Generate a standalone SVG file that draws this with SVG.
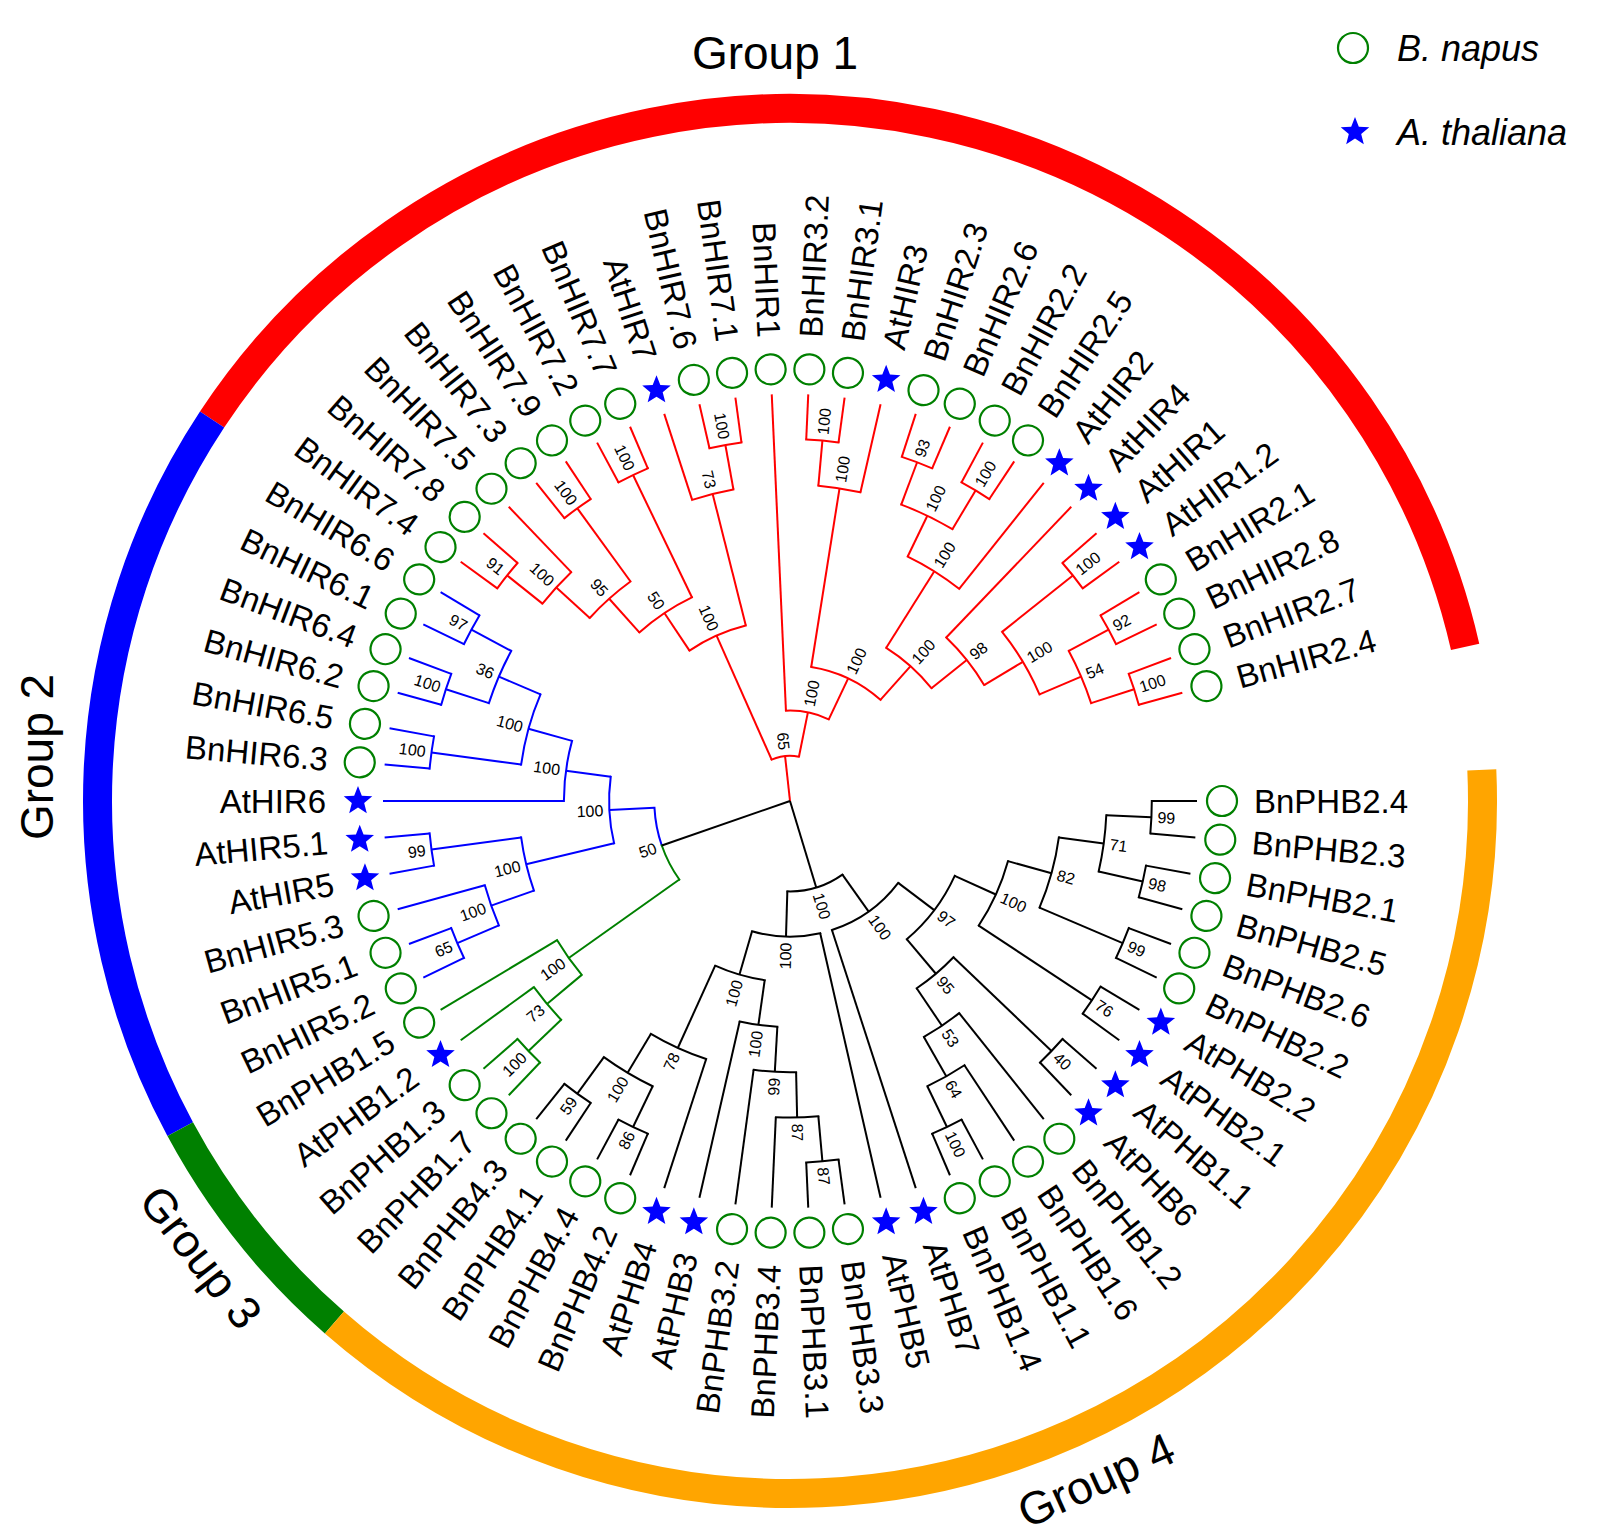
<svg xmlns="http://www.w3.org/2000/svg" width="1616" height="1538" viewBox="0 0 1616 1538">
<defs>
<path id="st" d="M0,-15 L3.82,-5.26 L14.27,-4.64 L6.18,2.01 L8.82,12.14 L0,6.5 L-8.82,12.14 L-6.18,2.01 L-14.27,-4.64 L-3.82,-5.26 Z" fill="#0000FF"/>
</defs>
<style>
text{font-family:"Liberation Sans",Arial,sans-serif;fill:#000}
.lab{font-size:33px}
.bs{font-size:16px}
.f{text-anchor:end}
.bn{fill:none;stroke:#008000;stroke-width:2.2}
.br{fill:none;stroke-width:2;stroke-linecap:butt}
.br circle{stroke-linecap:square}
.red{stroke:#FF0000}.blue{stroke:#0000FF}.grn{stroke:#008000}.blk{stroke:#000000}
.ring{fill:none;stroke-width:29}
.grp{font-size:46px;text-anchor:middle}
.leg{font-size:36px;font-style:italic}
</style>
<rect width="1616" height="1538" fill="#FFFFFF"/>

<g id="group-rings" transform="translate(790,801)">
<circle class="ring" r="692.5" stroke="#FF0000" pathLength="360" stroke-dasharray="133.71 400" transform="rotate(213.43)"/>
<circle class="ring" r="692.5" stroke="#0000FF" pathLength="360" stroke-dasharray="61.72 400" transform="rotate(151.71)"/>
<circle class="ring" r="692.5" stroke="#008000" pathLength="360" stroke-dasharray="20.57 400" transform="rotate(131.14)"/>
<circle class="ring" r="692.5" stroke="#FFA500" pathLength="360" stroke-dasharray="133.71 400" transform="rotate(-2.57)"/>
</g>

<g id="group-labels">
<text class="grp" x="775" y="69">Group 1</text>
<text class="grp" transform="translate(37,757) rotate(-90)" dy="0.35em">Group 2</text>
<text class="grp" transform="translate(201,1257) rotate(52)" dy="0.35em">Group 3</text>
<text class="grp" transform="translate(1096,1480) rotate(-24.3)" dy="0.35em">Group 4</text>
</g>

<g id="legend">
<circle class="bn" cx="1353" cy="48" r="15"/>
<text class="leg" x="1397" y="61">B. napus</text>
<use href="#st" transform="translate(1355,132)"/>
<text class="leg" x="1397" y="145">A. thaliana</text>
</g>

<g transform="translate(790,801)">
<g id="connectors">
<g class="br red">
<circle r="361.8" pathLength="360" stroke-dasharray="5.14 400" transform="rotate(216)"/>
<line x1="361.8" x2="407" transform="rotate(216)"/>
<line x1="361.8" x2="407" transform="rotate(221.14)"/>
<circle r="316.6" pathLength="360" stroke-dasharray="7.72 400" transform="rotate(218.57)"/>
<line x1="316.6" x2="361.8" transform="rotate(218.57)"/>
<line x1="316.6" x2="407" transform="rotate(226.29)"/>
<circle r="361.8" pathLength="360" stroke-dasharray="5.14 400" transform="rotate(231.43)"/>
<line x1="361.8" x2="407" transform="rotate(231.43)"/>
<line x1="361.8" x2="407" transform="rotate(236.57)"/>
<circle r="271.3" pathLength="360" stroke-dasharray="11.57 400" transform="rotate(222.43)"/>
<line x1="271.3" x2="316.6" transform="rotate(222.43)"/>
<line x1="271.3" x2="361.8" transform="rotate(234)"/>
<circle r="361.8" pathLength="360" stroke-dasharray="5.15 400" transform="rotate(241.71)"/>
<line x1="361.8" x2="407" transform="rotate(241.71)"/>
<line x1="361.8" x2="407" transform="rotate(246.86)"/>
<circle r="226.1" pathLength="360" stroke-dasharray="16.08 400" transform="rotate(228.21)"/>
<line x1="226.1" x2="271.3" transform="rotate(228.21)"/>
<line x1="226.1" x2="361.8" transform="rotate(244.29)"/>
<circle r="361.8" pathLength="360" stroke-dasharray="5.15 400" transform="rotate(257.14)"/>
<line x1="361.8" x2="407" transform="rotate(257.14)"/>
<line x1="361.8" x2="407" transform="rotate(262.29)"/>
<circle r="316.6" pathLength="360" stroke-dasharray="7.71 400" transform="rotate(252)"/>
<line x1="316.6" x2="407" transform="rotate(252)"/>
<line x1="316.6" x2="361.8" transform="rotate(259.71)"/>
<circle r="180.9" pathLength="360" stroke-dasharray="19.61 400" transform="rotate(236.25)"/>
<line x1="180.9" x2="226.1" transform="rotate(236.25)"/>
<line x1="180.9" x2="316.6" transform="rotate(255.86)"/>
<circle r="361.8" pathLength="360" stroke-dasharray="5.14 400" transform="rotate(272.57)"/>
<line x1="361.8" x2="407" transform="rotate(272.57)"/>
<line x1="361.8" x2="407" transform="rotate(277.71)"/>
<circle r="316.6" pathLength="360" stroke-dasharray="7.72 400" transform="rotate(275.14)"/>
<line x1="316.6" x2="361.8" transform="rotate(275.14)"/>
<line x1="316.6" x2="407" transform="rotate(282.86)"/>
<circle r="361.8" pathLength="360" stroke-dasharray="5.14 400" transform="rotate(288)"/>
<line x1="361.8" x2="407" transform="rotate(288)"/>
<line x1="361.8" x2="407" transform="rotate(293.14)"/>
<circle r="361.8" pathLength="360" stroke-dasharray="5.14 400" transform="rotate(298.29)"/>
<line x1="361.8" x2="407" transform="rotate(298.29)"/>
<line x1="361.8" x2="407" transform="rotate(303.43)"/>
<circle r="316.6" pathLength="360" stroke-dasharray="10.29 400" transform="rotate(290.57)"/>
<line x1="316.6" x2="361.8" transform="rotate(290.57)"/>
<line x1="316.6" x2="361.8" transform="rotate(300.86)"/>
<circle r="271.3" pathLength="360" stroke-dasharray="12.86 400" transform="rotate(295.71)"/>
<line x1="271.3" x2="316.6" transform="rotate(295.71)"/>
<line x1="271.3" x2="407" transform="rotate(308.57)"/>
<circle r="361.8" pathLength="360" stroke-dasharray="5.14 400" transform="rotate(318.86)"/>
<line x1="361.8" x2="407" transform="rotate(318.86)"/>
<line x1="361.8" x2="407" transform="rotate(324)"/>
<circle r="361.8" pathLength="360" stroke-dasharray="5.15 400" transform="rotate(329.14)"/>
<line x1="361.8" x2="407" transform="rotate(329.14)"/>
<line x1="361.8" x2="407" transform="rotate(334.29)"/>
<circle r="361.8" pathLength="360" stroke-dasharray="5.14 400" transform="rotate(339.43)"/>
<line x1="361.8" x2="407" transform="rotate(339.43)"/>
<line x1="361.8" x2="407" transform="rotate(344.57)"/>
<circle r="316.6" pathLength="360" stroke-dasharray="10.29 400" transform="rotate(331.71)"/>
<line x1="316.6" x2="361.8" transform="rotate(331.71)"/>
<line x1="316.6" x2="361.8" transform="rotate(342)"/>
<circle r="271.3" pathLength="360" stroke-dasharray="15.43 400" transform="rotate(321.43)"/>
<line x1="271.3" x2="361.8" transform="rotate(321.43)"/>
<line x1="271.3" x2="316.6" transform="rotate(336.86)"/>
<circle r="226.1" pathLength="360" stroke-dasharray="15.43 400" transform="rotate(313.71)"/>
<line x1="226.1" x2="407" transform="rotate(313.71)"/>
<line x1="226.1" x2="271.3" transform="rotate(329.14)"/>
<circle r="180.9" pathLength="360" stroke-dasharray="19.29 400" transform="rotate(302.14)"/>
<line x1="180.9" x2="271.3" transform="rotate(302.14)"/>
<line x1="180.9" x2="226.1" transform="rotate(321.43)"/>
<circle r="135.7" pathLength="360" stroke-dasharray="32.79 400" transform="rotate(279)"/>
<line x1="135.7" x2="316.6" transform="rotate(279)"/>
<line x1="135.7" x2="180.9" transform="rotate(311.79)"/>
<circle r="90.4" pathLength="360" stroke-dasharray="27.96 400" transform="rotate(267.43)"/>
<line x1="90.4" x2="407" transform="rotate(267.43)"/>
<line x1="90.4" x2="135.7" transform="rotate(295.39)"/>
<circle r="45.2" pathLength="360" stroke-dasharray="35.36 400" transform="rotate(246.05)"/>
<line x1="45.2" x2="180.9" transform="rotate(246.05)"/>
<line x1="45.2" x2="90.4" transform="rotate(281.41)"/>
<line x1="0" x2="45.2" transform="rotate(263.73)"/>
</g>
<g class="br blue">
<circle r="361.8" pathLength="360" stroke-dasharray="5.14 400" transform="rotate(154.29)"/>
<line x1="361.8" x2="407" transform="rotate(154.29)"/>
<line x1="361.8" x2="407" transform="rotate(159.43)"/>
<circle r="316.6" pathLength="360" stroke-dasharray="7.71 400" transform="rotate(156.86)"/>
<line x1="316.6" x2="361.8" transform="rotate(156.86)"/>
<line x1="316.6" x2="407" transform="rotate(164.57)"/>
<circle r="361.8" pathLength="360" stroke-dasharray="5.15 400" transform="rotate(169.71)"/>
<line x1="361.8" x2="407" transform="rotate(169.71)"/>
<line x1="361.8" x2="407" transform="rotate(174.86)"/>
<circle r="271.3" pathLength="360" stroke-dasharray="11.58 400" transform="rotate(160.71)"/>
<line x1="271.3" x2="316.6" transform="rotate(160.71)"/>
<line x1="271.3" x2="361.8" transform="rotate(172.29)"/>
<circle r="361.8" pathLength="360" stroke-dasharray="5.15 400" transform="rotate(185.14)"/>
<line x1="361.8" x2="407" transform="rotate(185.14)"/>
<line x1="361.8" x2="407" transform="rotate(190.29)"/>
<circle r="361.8" pathLength="360" stroke-dasharray="5.14 400" transform="rotate(195.43)"/>
<line x1="361.8" x2="407" transform="rotate(195.43)"/>
<line x1="361.8" x2="407" transform="rotate(200.57)"/>
<circle r="361.8" pathLength="360" stroke-dasharray="5.15 400" transform="rotate(205.71)"/>
<line x1="361.8" x2="407" transform="rotate(205.71)"/>
<line x1="361.8" x2="407" transform="rotate(210.86)"/>
<circle r="316.6" pathLength="360" stroke-dasharray="10.29 400" transform="rotate(198)"/>
<line x1="316.6" x2="361.8" transform="rotate(198)"/>
<line x1="316.6" x2="361.8" transform="rotate(208.29)"/>
<circle r="271.3" pathLength="360" stroke-dasharray="15.43 400" transform="rotate(187.71)"/>
<line x1="271.3" x2="361.8" transform="rotate(187.71)"/>
<line x1="271.3" x2="316.6" transform="rotate(203.14)"/>
<circle r="226.1" pathLength="360" stroke-dasharray="15.43 400" transform="rotate(180)"/>
<line x1="226.1" x2="407" transform="rotate(180)"/>
<line x1="226.1" x2="271.3" transform="rotate(195.43)"/>
<circle r="180.9" pathLength="360" stroke-dasharray="21.21 400" transform="rotate(166.5)"/>
<line x1="180.9" x2="271.3" transform="rotate(166.5)"/>
<line x1="180.9" x2="226.1" transform="rotate(187.71)"/>
<circle r="135.7" pathLength="360" stroke-dasharray="16.24 400" transform="rotate(160.87)"/>
<line x1="135.7" x2="180.9" transform="rotate(177.11)"/>
</g>
<g class="br grn">
<circle r="361.8" pathLength="360" stroke-dasharray="5.15 400" transform="rotate(133.71)"/>
<line x1="361.8" x2="407" transform="rotate(133.71)"/>
<line x1="361.8" x2="407" transform="rotate(138.86)"/>
<circle r="316.6" pathLength="360" stroke-dasharray="7.71 400" transform="rotate(136.29)"/>
<line x1="316.6" x2="361.8" transform="rotate(136.29)"/>
<line x1="316.6" x2="407" transform="rotate(144)"/>
<circle r="271.3" pathLength="360" stroke-dasharray="9 400" transform="rotate(140.14)"/>
<line x1="271.3" x2="316.6" transform="rotate(140.14)"/>
<line x1="271.3" x2="407" transform="rotate(149.14)"/>
<circle r="135.7" pathLength="360" stroke-dasharray="16.23 400" transform="rotate(144.64)"/>
<line x1="135.7" x2="271.3" transform="rotate(144.64)"/>
</g>
<g class="br blk">
<line x1="0" x2="135.7" transform="rotate(160.87)"/>
<line x1="0" x2="90.4" transform="rotate(73.13)"/>
<circle r="361.8" pathLength="360" stroke-dasharray="5.14 400" transform="rotate(0)"/>
<line x1="361.8" x2="407" transform="rotate(0)"/>
<line x1="361.8" x2="407" transform="rotate(5.14)"/>
<circle r="361.8" pathLength="360" stroke-dasharray="5.14 400" transform="rotate(10.29)"/>
<line x1="361.8" x2="407" transform="rotate(10.29)"/>
<line x1="361.8" x2="407" transform="rotate(15.43)"/>
<circle r="316.6" pathLength="360" stroke-dasharray="10.29 400" transform="rotate(2.57)"/>
<line x1="316.6" x2="361.8" transform="rotate(2.57)"/>
<line x1="316.6" x2="361.8" transform="rotate(12.86)"/>
<circle r="361.8" pathLength="360" stroke-dasharray="5.14 400" transform="rotate(20.57)"/>
<line x1="361.8" x2="407" transform="rotate(20.57)"/>
<line x1="361.8" x2="407" transform="rotate(25.71)"/>
<circle r="271.3" pathLength="360" stroke-dasharray="15.43 400" transform="rotate(7.71)"/>
<line x1="271.3" x2="316.6" transform="rotate(7.71)"/>
<line x1="271.3" x2="361.8" transform="rotate(23.14)"/>
<circle r="361.8" pathLength="360" stroke-dasharray="5.14 400" transform="rotate(30.86)"/>
<line x1="361.8" x2="407" transform="rotate(30.86)"/>
<line x1="361.8" x2="407" transform="rotate(36)"/>
<circle r="226.1" pathLength="360" stroke-dasharray="18 400" transform="rotate(15.43)"/>
<line x1="226.1" x2="271.3" transform="rotate(15.43)"/>
<line x1="226.1" x2="361.8" transform="rotate(33.43)"/>
<circle r="361.8" pathLength="360" stroke-dasharray="5.15 400" transform="rotate(41.14)"/>
<line x1="361.8" x2="407" transform="rotate(41.14)"/>
<line x1="361.8" x2="407" transform="rotate(46.29)"/>
<circle r="361.8" pathLength="360" stroke-dasharray="5.15 400" transform="rotate(61.71)"/>
<line x1="361.8" x2="407" transform="rotate(61.71)"/>
<line x1="361.8" x2="407" transform="rotate(66.86)"/>
<circle r="316.6" pathLength="360" stroke-dasharray="7.72 400" transform="rotate(56.57)"/>
<line x1="316.6" x2="407" transform="rotate(56.57)"/>
<line x1="316.6" x2="361.8" transform="rotate(64.29)"/>
<circle r="271.3" pathLength="360" stroke-dasharray="9 400" transform="rotate(51.43)"/>
<line x1="271.3" x2="407" transform="rotate(51.43)"/>
<line x1="271.3" x2="316.6" transform="rotate(60.43)"/>
<circle r="226.1" pathLength="360" stroke-dasharray="12.22 400" transform="rotate(43.71)"/>
<line x1="226.1" x2="361.8" transform="rotate(43.71)"/>
<line x1="226.1" x2="271.3" transform="rotate(55.93)"/>
<circle r="180.9" pathLength="360" stroke-dasharray="25.39 400" transform="rotate(24.43)"/>
<line x1="180.9" x2="226.1" transform="rotate(24.43)"/>
<line x1="180.9" x2="226.1" transform="rotate(49.82)"/>
<circle r="135.7" pathLength="360" stroke-dasharray="34.88 400" transform="rotate(37.12)"/>
<line x1="135.7" x2="180.9" transform="rotate(37.12)"/>
<line x1="135.7" x2="407" transform="rotate(72)"/>
<circle r="361.8" pathLength="360" stroke-dasharray="5.14 400" transform="rotate(82.29)"/>
<line x1="361.8" x2="407" transform="rotate(82.29)"/>
<line x1="361.8" x2="407" transform="rotate(87.43)"/>
<circle r="316.6" pathLength="360" stroke-dasharray="7.71 400" transform="rotate(84.86)"/>
<line x1="316.6" x2="361.8" transform="rotate(84.86)"/>
<line x1="316.6" x2="407" transform="rotate(92.57)"/>
<circle r="271.3" pathLength="360" stroke-dasharray="9 400" transform="rotate(88.71)"/>
<line x1="271.3" x2="316.6" transform="rotate(88.71)"/>
<line x1="271.3" x2="407" transform="rotate(97.71)"/>
<circle r="226.1" pathLength="360" stroke-dasharray="9.65 400" transform="rotate(93.21)"/>
<line x1="226.1" x2="271.3" transform="rotate(93.21)"/>
<line x1="226.1" x2="407" transform="rotate(102.86)"/>
<circle r="361.8" pathLength="360" stroke-dasharray="5.15 400" transform="rotate(113.14)"/>
<line x1="361.8" x2="407" transform="rotate(113.14)"/>
<line x1="361.8" x2="407" transform="rotate(118.29)"/>
<circle r="361.8" pathLength="360" stroke-dasharray="5.14 400" transform="rotate(123.43)"/>
<line x1="361.8" x2="407" transform="rotate(123.43)"/>
<line x1="361.8" x2="407" transform="rotate(128.57)"/>
<circle r="316.6" pathLength="360" stroke-dasharray="10.29 400" transform="rotate(115.71)"/>
<line x1="316.6" x2="361.8" transform="rotate(115.71)"/>
<line x1="316.6" x2="361.8" transform="rotate(126)"/>
<circle r="271.3" pathLength="360" stroke-dasharray="12.86 400" transform="rotate(108)"/>
<line x1="271.3" x2="407" transform="rotate(108)"/>
<line x1="271.3" x2="316.6" transform="rotate(120.86)"/>
<circle r="180.9" pathLength="360" stroke-dasharray="16.39 400" transform="rotate(98.04)"/>
<line x1="180.9" x2="226.1" transform="rotate(98.04)"/>
<line x1="180.9" x2="271.3" transform="rotate(114.43)"/>
<circle r="135.7" pathLength="360" stroke-dasharray="29.1 400" transform="rotate(77.14)"/>
<line x1="135.7" x2="407" transform="rotate(77.14)"/>
<line x1="135.7" x2="180.9" transform="rotate(106.24)"/>
<circle r="90.4" pathLength="360" stroke-dasharray="37.13 400" transform="rotate(54.56)"/>
<line x1="90.4" x2="135.7" transform="rotate(54.56)"/>
<line x1="90.4" x2="135.7" transform="rotate(91.69)"/>
</g>
</g>

<g id="bootstrap" class="bs">
<text transform="rotate(218.57) translate(367.8,0) rotate(180)" class="f" dy="0.35em">91</text>
<text transform="rotate(222.43) translate(322.6,0) rotate(180)" class="f" dy="0.35em">100</text>
<text transform="rotate(234) translate(367.8,0) rotate(180)" class="f" dy="0.35em">100</text>
<text transform="rotate(228.21) translate(277.3,0) rotate(180)" class="f" dy="0.35em">95</text>
<text transform="rotate(244.29) translate(367.8,0) rotate(180)" class="f" dy="0.35em">100</text>
<text transform="rotate(236.25) translate(232.1,0) rotate(180)" class="f" dy="0.35em">50</text>
<text transform="rotate(259.71) translate(367.8,0) rotate(180)" class="f" dy="0.35em">100</text>
<text transform="rotate(255.86) translate(322.6,0) rotate(180)" class="f" dy="0.35em">73</text>
<text transform="rotate(246.05) translate(186.9,0) rotate(180)" class="f" dy="0.35em">100</text>
<text transform="rotate(275.14) translate(367.8,0)" dy="0.35em">100</text>
<text transform="rotate(279) translate(322.6,0)" dy="0.35em">100</text>
<text transform="rotate(290.57) translate(367.8,0)" dy="0.35em">93</text>
<text transform="rotate(300.86) translate(367.8,0)" dy="0.35em">100</text>
<text transform="rotate(295.71) translate(322.6,0)" dy="0.35em">100</text>
<text transform="rotate(302.14) translate(277.3,0)" dy="0.35em">100</text>
<text transform="rotate(321.43) translate(367.8,0)" dy="0.35em">100</text>
<text transform="rotate(331.71) translate(367.8,0)" dy="0.35em">92</text>
<text transform="rotate(342) translate(367.8,0)" dy="0.35em">100</text>
<text transform="rotate(336.86) translate(322.6,0)" dy="0.35em">54</text>
<text transform="rotate(329.14) translate(277.3,0)" dy="0.35em">100</text>
<text transform="rotate(321.43) translate(232.1,0)" dy="0.35em">98</text>
<text transform="rotate(311.79) translate(186.9,0)" dy="0.35em">100</text>
<text transform="rotate(295.39) translate(141.7,0)" dy="0.35em">100</text>
<text transform="rotate(281.41) translate(96.4,0)" dy="0.35em">100</text>
<text transform="rotate(263.73) translate(51.2,0) rotate(180)" class="f" dy="0.35em">65</text>
<text transform="rotate(156.86) translate(367.8,0) rotate(180)" class="f" dy="0.35em">65</text>
<text transform="rotate(160.71) translate(322.6,0) rotate(180)" class="f" dy="0.35em">100</text>
<text transform="rotate(172.29) translate(367.8,0) rotate(180)" class="f" dy="0.35em">99</text>
<text transform="rotate(166.5) translate(277.3,0) rotate(180)" class="f" dy="0.35em">100</text>
<text transform="rotate(187.71) translate(367.8,0) rotate(180)" class="f" dy="0.35em">100</text>
<text transform="rotate(198) translate(367.8,0) rotate(180)" class="f" dy="0.35em">100</text>
<text transform="rotate(208.29) translate(367.8,0) rotate(180)" class="f" dy="0.35em">97</text>
<text transform="rotate(203.14) translate(322.6,0) rotate(180)" class="f" dy="0.35em">36</text>
<text transform="rotate(195.43) translate(277.3,0) rotate(180)" class="f" dy="0.35em">100</text>
<text transform="rotate(187.71) translate(232.1,0) rotate(180)" class="f" dy="0.35em">100</text>
<text transform="rotate(177.11) translate(186.9,0) rotate(180)" class="f" dy="0.35em">100</text>
<text transform="rotate(160.87) translate(141.7,0) rotate(180)" class="f" dy="0.35em">50</text>
<text transform="rotate(136.29) translate(367.8,0) rotate(180)" class="f" dy="0.35em">100</text>
<text transform="rotate(140.14) translate(322.6,0) rotate(180)" class="f" dy="0.35em">73</text>
<text transform="rotate(144.64) translate(277.3,0) rotate(180)" class="f" dy="0.35em">100</text>
<text transform="rotate(2.57) translate(367.8,0)" dy="0.35em">99</text>
<text transform="rotate(12.86) translate(367.8,0)" dy="0.35em">98</text>
<text transform="rotate(7.71) translate(322.6,0)" dy="0.35em">71</text>
<text transform="rotate(23.14) translate(367.8,0)" dy="0.35em">99</text>
<text transform="rotate(15.43) translate(277.3,0)" dy="0.35em">82</text>
<text transform="rotate(33.43) translate(367.8,0)" dy="0.35em">76</text>
<text transform="rotate(24.43) translate(232.1,0)" dy="0.35em">100</text>
<text transform="rotate(43.71) translate(367.8,0)" dy="0.35em">40</text>
<text transform="rotate(64.29) translate(367.8,0)" dy="0.35em">100</text>
<text transform="rotate(60.43) translate(322.6,0)" dy="0.35em">64</text>
<text transform="rotate(55.93) translate(277.3,0)" dy="0.35em">53</text>
<text transform="rotate(49.82) translate(232.1,0)" dy="0.35em">95</text>
<text transform="rotate(37.12) translate(186.9,0)" dy="0.35em">97</text>
<text transform="rotate(54.56) translate(141.7,0)" dy="0.35em">100</text>
<text transform="rotate(84.86) translate(367.8,0)" dy="0.35em">87</text>
<text transform="rotate(88.71) translate(322.6,0)" dy="0.35em">87</text>
<text transform="rotate(93.21) translate(277.3,0) rotate(180)" class="f" dy="0.35em">99</text>
<text transform="rotate(98.04) translate(232.1,0) rotate(180)" class="f" dy="0.35em">100</text>
<text transform="rotate(115.71) translate(367.8,0) rotate(180)" class="f" dy="0.35em">86</text>
<text transform="rotate(126) translate(367.8,0) rotate(180)" class="f" dy="0.35em">59</text>
<text transform="rotate(120.86) translate(322.6,0) rotate(180)" class="f" dy="0.35em">100</text>
<text transform="rotate(114.43) translate(277.3,0) rotate(180)" class="f" dy="0.35em">78</text>
<text transform="rotate(106.24) translate(186.9,0) rotate(180)" class="f" dy="0.35em">100</text>
<text transform="rotate(91.69) translate(141.7,0) rotate(180)" class="f" dy="0.35em">100</text>
<text transform="rotate(73.13) translate(96.4,0)" dy="0.35em">100</text>
</g>

<g id="leaves" class="lab">
<g id="leaf-BnPHB2.4" transform="rotate(0)"><circle class="bn" cx="432" r="15"/><text x="464" dy="0.35em">BnPHB2.4</text></g>
<g id="leaf-BnPHB2.3" transform="rotate(5.14)"><circle class="bn" cx="432" r="15"/><text x="464" dy="0.35em">BnPHB2.3</text></g>
<g id="leaf-BnPHB2.1" transform="rotate(10.29)"><circle class="bn" cx="432" r="15"/><text x="464" dy="0.35em">BnPHB2.1</text></g>
<g id="leaf-BnPHB2.5" transform="rotate(15.43)"><circle class="bn" cx="432" r="15"/><text x="464" dy="0.35em">BnPHB2.5</text></g>
<g id="leaf-BnPHB2.6" transform="rotate(20.57)"><circle class="bn" cx="432" r="15"/><text x="464" dy="0.35em">BnPHB2.6</text></g>
<g id="leaf-BnPHB2.2" transform="rotate(25.71)"><circle class="bn" cx="432" r="15"/><text x="464" dy="0.35em">BnPHB2.2</text></g>
<g id="leaf-AtPHB2.2" transform="rotate(30.86)"><use href="#st" transform="translate(432,0) rotate(-30.86)"/><text x="464" dy="0.35em">AtPHB2.2</text></g>
<g id="leaf-AtPHB2.1" transform="rotate(36)"><use href="#st" transform="translate(432,0) rotate(-36)"/><text x="464" dy="0.35em">AtPHB2.1</text></g>
<g id="leaf-AtPHB1.1" transform="rotate(41.14)"><use href="#st" transform="translate(432,0) rotate(-41.14)"/><text x="464" dy="0.35em">AtPHB1.1</text></g>
<g id="leaf-AtPHB6" transform="rotate(46.29)"><use href="#st" transform="translate(432,0) rotate(-46.29)"/><text x="464" dy="0.35em">AtPHB6</text></g>
<g id="leaf-BnPHB1.2" transform="rotate(51.43)"><circle class="bn" cx="432" r="15"/><text x="464" dy="0.35em">BnPHB1.2</text></g>
<g id="leaf-BnPHB1.6" transform="rotate(56.57)"><circle class="bn" cx="432" r="15"/><text x="464" dy="0.35em">BnPHB1.6</text></g>
<g id="leaf-BnPHB1.1" transform="rotate(61.71)"><circle class="bn" cx="432" r="15"/><text x="464" dy="0.35em">BnPHB1.1</text></g>
<g id="leaf-BnPHB1.4" transform="rotate(66.86)"><circle class="bn" cx="432" r="15"/><text x="464" dy="0.35em">BnPHB1.4</text></g>
<g id="leaf-AtPHB7" transform="rotate(72)"><use href="#st" transform="translate(432,0) rotate(-72)"/><text x="464" dy="0.35em">AtPHB7</text></g>
<g id="leaf-AtPHB5" transform="rotate(77.14)"><use href="#st" transform="translate(432,0) rotate(-77.14)"/><text x="464" dy="0.35em">AtPHB5</text></g>
<g id="leaf-BnPHB3.3" transform="rotate(82.29)"><circle class="bn" cx="432" r="15"/><text x="464" dy="0.35em">BnPHB3.3</text></g>
<g id="leaf-BnPHB3.1" transform="rotate(87.43)"><circle class="bn" cx="432" r="15"/><text x="464" dy="0.35em">BnPHB3.1</text></g>
<g id="leaf-BnPHB3.4" transform="rotate(92.57)"><circle class="bn" cx="432" r="15"/><text class="f" transform="translate(464,0) rotate(180)" dy="0.35em">BnPHB3.4</text></g>
<g id="leaf-BnPHB3.2" transform="rotate(97.71)"><circle class="bn" cx="432" r="15"/><text class="f" transform="translate(464,0) rotate(180)" dy="0.35em">BnPHB3.2</text></g>
<g id="leaf-AtPHB3" transform="rotate(102.86)"><use href="#st" transform="translate(432,0) rotate(-102.86)"/><text class="f" transform="translate(464,0) rotate(180)" dy="0.35em">AtPHB3</text></g>
<g id="leaf-AtPHB4" transform="rotate(108)"><use href="#st" transform="translate(432,0) rotate(-108)"/><text class="f" transform="translate(464,0) rotate(180)" dy="0.35em">AtPHB4</text></g>
<g id="leaf-BnPHB4.2" transform="rotate(113.14)"><circle class="bn" cx="432" r="15"/><text class="f" transform="translate(464,0) rotate(180)" dy="0.35em">BnPHB4.2</text></g>
<g id="leaf-BnPHB4.4" transform="rotate(118.29)"><circle class="bn" cx="432" r="15"/><text class="f" transform="translate(464,0) rotate(180)" dy="0.35em">BnPHB4.4</text></g>
<g id="leaf-BnPHB4.1" transform="rotate(123.43)"><circle class="bn" cx="432" r="15"/><text class="f" transform="translate(464,0) rotate(180)" dy="0.35em">BnPHB4.1</text></g>
<g id="leaf-BnPHB4.3" transform="rotate(128.57)"><circle class="bn" cx="432" r="15"/><text class="f" transform="translate(464,0) rotate(180)" dy="0.35em">BnPHB4.3</text></g>
<g id="leaf-BnPHB1.7" transform="rotate(133.71)"><circle class="bn" cx="432" r="15"/><text class="f" transform="translate(464,0) rotate(180)" dy="0.35em">BnPHB1.7</text></g>
<g id="leaf-BnPHB1.3" transform="rotate(138.86)"><circle class="bn" cx="432" r="15"/><text class="f" transform="translate(464,0) rotate(180)" dy="0.35em">BnPHB1.3</text></g>
<g id="leaf-AtPHB1.2" transform="rotate(144)"><use href="#st" transform="translate(432,0) rotate(-144)"/><text class="f" transform="translate(464,0) rotate(180)" dy="0.35em">AtPHB1.2</text></g>
<g id="leaf-BnPHB1.5" transform="rotate(149.14)"><circle class="bn" cx="432" r="15"/><text class="f" transform="translate(464,0) rotate(180)" dy="0.35em">BnPHB1.5</text></g>
<g id="leaf-BnHIR5.2" transform="rotate(154.29)"><circle class="bn" cx="432" r="15"/><text class="f" transform="translate(464,0) rotate(180)" dy="0.35em">BnHIR5.2</text></g>
<g id="leaf-BnHIR5.1" transform="rotate(159.43)"><circle class="bn" cx="432" r="15"/><text class="f" transform="translate(464,0) rotate(180)" dy="0.35em">BnHIR5.1</text></g>
<g id="leaf-BnHIR5.3" transform="rotate(164.57)"><circle class="bn" cx="432" r="15"/><text class="f" transform="translate(464,0) rotate(180)" dy="0.35em">BnHIR5.3</text></g>
<g id="leaf-AtHIR5" transform="rotate(169.71)"><use href="#st" transform="translate(432,0) rotate(-169.71)"/><text class="f" transform="translate(464,0) rotate(180)" dy="0.35em">AtHIR5</text></g>
<g id="leaf-AtHIR5.1" transform="rotate(174.86)"><use href="#st" transform="translate(432,0) rotate(-174.86)"/><text class="f" transform="translate(464,0) rotate(180)" dy="0.35em">AtHIR5.1</text></g>
<g id="leaf-AtHIR6" transform="rotate(180)"><use href="#st" transform="translate(432,0) rotate(-180)"/><text class="f" transform="translate(464,0) rotate(180)" dy="0.35em">AtHIR6</text></g>
<g id="leaf-BnHIR6.3" transform="rotate(185.14)"><circle class="bn" cx="432" r="15"/><text class="f" transform="translate(464,0) rotate(180)" dy="0.35em">BnHIR6.3</text></g>
<g id="leaf-BnHIR6.5" transform="rotate(190.29)"><circle class="bn" cx="432" r="15"/><text class="f" transform="translate(464,0) rotate(180)" dy="0.35em">BnHIR6.5</text></g>
<g id="leaf-BnHIR6.2" transform="rotate(195.43)"><circle class="bn" cx="432" r="15"/><text class="f" transform="translate(464,0) rotate(180)" dy="0.35em">BnHIR6.2</text></g>
<g id="leaf-BnHIR6.4" transform="rotate(200.57)"><circle class="bn" cx="432" r="15"/><text class="f" transform="translate(464,0) rotate(180)" dy="0.35em">BnHIR6.4</text></g>
<g id="leaf-BnHIR6.1" transform="rotate(205.71)"><circle class="bn" cx="432" r="15"/><text class="f" transform="translate(464,0) rotate(180)" dy="0.35em">BnHIR6.1</text></g>
<g id="leaf-BnHIR6.6" transform="rotate(210.86)"><circle class="bn" cx="432" r="15"/><text class="f" transform="translate(464,0) rotate(180)" dy="0.35em">BnHIR6.6</text></g>
<g id="leaf-BnHIR7.4" transform="rotate(216)"><circle class="bn" cx="432" r="15"/><text class="f" transform="translate(464,0) rotate(180)" dy="0.35em">BnHIR7.4</text></g>
<g id="leaf-BnHIR7.8" transform="rotate(221.14)"><circle class="bn" cx="432" r="15"/><text class="f" transform="translate(464,0) rotate(180)" dy="0.35em">BnHIR7.8</text></g>
<g id="leaf-BnHIR7.5" transform="rotate(226.29)"><circle class="bn" cx="432" r="15"/><text class="f" transform="translate(464,0) rotate(180)" dy="0.35em">BnHIR7.5</text></g>
<g id="leaf-BnHIR7.3" transform="rotate(231.43)"><circle class="bn" cx="432" r="15"/><text class="f" transform="translate(464,0) rotate(180)" dy="0.35em">BnHIR7.3</text></g>
<g id="leaf-BnHIR7.9" transform="rotate(236.57)"><circle class="bn" cx="432" r="15"/><text class="f" transform="translate(464,0) rotate(180)" dy="0.35em">BnHIR7.9</text></g>
<g id="leaf-BnHIR7.2" transform="rotate(241.71)"><circle class="bn" cx="432" r="15"/><text class="f" transform="translate(464,0) rotate(180)" dy="0.35em">BnHIR7.2</text></g>
<g id="leaf-BnHIR7.7" transform="rotate(246.86)"><circle class="bn" cx="432" r="15"/><text class="f" transform="translate(464,0) rotate(180)" dy="0.35em">BnHIR7.7</text></g>
<g id="leaf-AtHIR7" transform="rotate(252)"><use href="#st" transform="translate(432,0) rotate(-252)"/><text class="f" transform="translate(464,0) rotate(180)" dy="0.35em">AtHIR7</text></g>
<g id="leaf-BnHIR7.6" transform="rotate(257.14)"><circle class="bn" cx="432" r="15"/><text class="f" transform="translate(464,0) rotate(180)" dy="0.35em">BnHIR7.6</text></g>
<g id="leaf-BnHIR7.1" transform="rotate(262.29)"><circle class="bn" cx="432" r="15"/><text class="f" transform="translate(464,0) rotate(180)" dy="0.35em">BnHIR7.1</text></g>
<g id="leaf-BnHIR1" transform="rotate(267.43)"><circle class="bn" cx="432" r="15"/><text class="f" transform="translate(464,0) rotate(180)" dy="0.35em">BnHIR1</text></g>
<g id="leaf-BnHIR3.2" transform="rotate(272.57)"><circle class="bn" cx="432" r="15"/><text x="464" dy="0.35em">BnHIR3.2</text></g>
<g id="leaf-BnHIR3.1" transform="rotate(277.71)"><circle class="bn" cx="432" r="15"/><text x="464" dy="0.35em">BnHIR3.1</text></g>
<g id="leaf-AtHIR3" transform="rotate(282.86)"><use href="#st" transform="translate(432,0) rotate(-282.86)"/><text x="464" dy="0.35em">AtHIR3</text></g>
<g id="leaf-BnHIR2.3" transform="rotate(288)"><circle class="bn" cx="432" r="15"/><text x="464" dy="0.35em">BnHIR2.3</text></g>
<g id="leaf-BnHIR2.6" transform="rotate(293.14)"><circle class="bn" cx="432" r="15"/><text x="464" dy="0.35em">BnHIR2.6</text></g>
<g id="leaf-BnHIR2.2" transform="rotate(298.29)"><circle class="bn" cx="432" r="15"/><text x="464" dy="0.35em">BnHIR2.2</text></g>
<g id="leaf-BnHIR2.5" transform="rotate(303.43)"><circle class="bn" cx="432" r="15"/><text x="464" dy="0.35em">BnHIR2.5</text></g>
<g id="leaf-AtHIR2" transform="rotate(308.57)"><use href="#st" transform="translate(432,0) rotate(-308.57)"/><text x="464" dy="0.35em">AtHIR2</text></g>
<g id="leaf-AtHIR4" transform="rotate(313.71)"><use href="#st" transform="translate(432,0) rotate(-313.71)"/><text x="464" dy="0.35em">AtHIR4</text></g>
<g id="leaf-AtHIR1" transform="rotate(318.86)"><use href="#st" transform="translate(432,0) rotate(-318.86)"/><text x="464" dy="0.35em">AtHIR1</text></g>
<g id="leaf-AtHIR1.2" transform="rotate(324)"><use href="#st" transform="translate(432,0) rotate(-324)"/><text x="464" dy="0.35em">AtHIR1.2</text></g>
<g id="leaf-BnHIR2.1" transform="rotate(329.14)"><circle class="bn" cx="432" r="15"/><text x="464" dy="0.35em">BnHIR2.1</text></g>
<g id="leaf-BnHIR2.8" transform="rotate(334.29)"><circle class="bn" cx="432" r="15"/><text x="464" dy="0.35em">BnHIR2.8</text></g>
<g id="leaf-BnHIR2.7" transform="rotate(339.43)"><circle class="bn" cx="432" r="15"/><text x="464" dy="0.35em">BnHIR2.7</text></g>
<g id="leaf-BnHIR2.4" transform="rotate(344.57)"><circle class="bn" cx="432" r="15"/><text x="464" dy="0.35em">BnHIR2.4</text></g>
</g>
</g>
</svg>
